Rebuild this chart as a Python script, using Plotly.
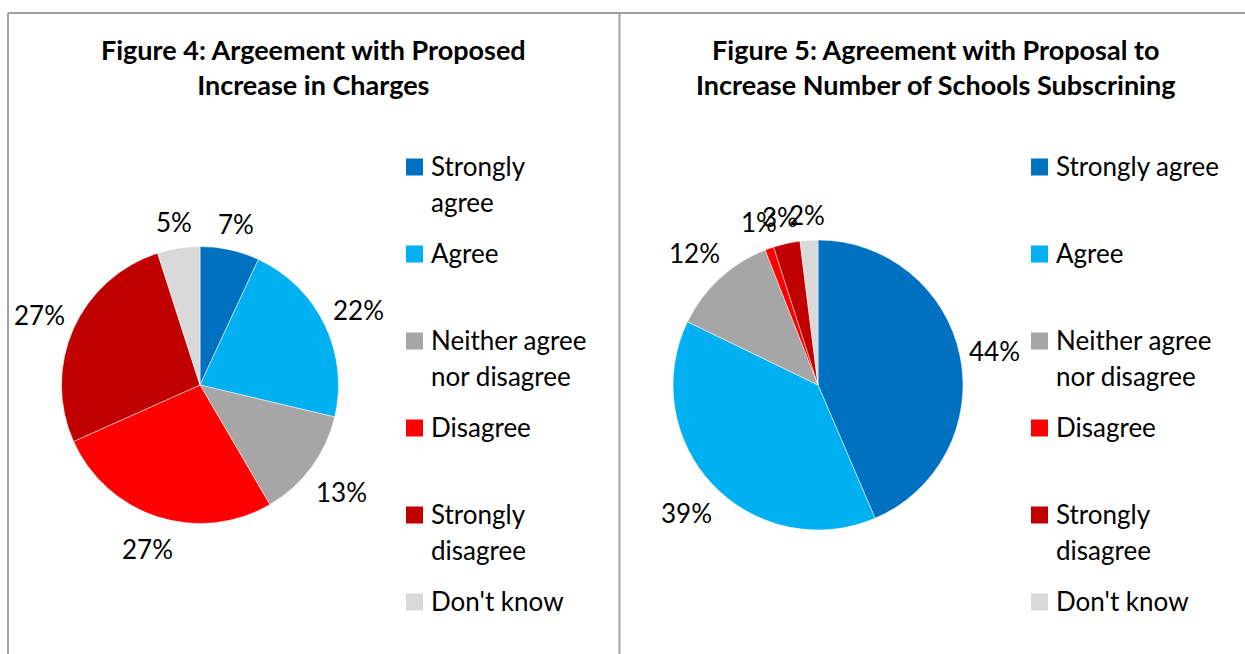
import math
import plotly.graph_objects as go

W, H = 1245, 654
FONT = "Lato"

# Response categories, slice colours and survey results (percent)
categories = ["Strongly agree", "Agree", "Neither agree nor disagree",
              "Disagree", "Strongly disagree", "Don't know"]
colors = ["#0070C0", "#00B0F0", "#A6A6A6", "#FF0000", "#C00000", "#D9D9D9"]
charges_pct = [7, 22, 13, 27, 27, 5]
schools_pct = [44, 39, 12, 1, 3, 2]

titles = ["Figure 4: Argeement with Proposed<br>Increase in Charges",
          "Figure 5: Agreement with Proposal to<br>Increase Number of Schools Subscrining"]

# Legend text, wrapped per line as in each panel
legend_left = [["Strongly", "agree"], ["Agree"], ["Neither agree", "nor disagree"],
               ["Disagree"], ["Strongly", "disagree"], ["Don't know"]]
legend_right = [["Strongly agree"], ["Agree"], ["Neither agree", "nor disagree"],
                ["Disagree"], ["Strongly", "disagree"], ["Don't know"]]


def px(x):
    return x / W


def py(y):
    return 1 - y / H


panels = [
    dict(values=charges_pct, cx=200, cy=385, r=138.5, title_x=313,
         legend=legend_left, sq_x=406, text_x=429),
    dict(values=schools_pct, cx=818, cy=385, r=145, title_x=935,
         legend=legend_right, sq_x=1031, text_x=1054),
]

fig = go.Figure()
annotations = []
shapes = []

LABEL_SIZE = 26
for k, p in enumerate(panels):
    cx, cy, r = p["cx"], p["cy"], p["r"]
    fig.add_trace(go.Pie(
        labels=categories, values=p["values"], sort=False,
        direction="clockwise", rotation=0,
        marker=dict(colors=colors, line=dict(color="white", width=0.5)),
        textinfo="none", hovertemplate="%{label}: %{value}%<extra></extra>",
        showlegend=False,
        domain=dict(x=[px(cx - r), px(cx + r)], y=[py(cy + r), py(cy - r)]),
    ))

    # percentage labels outside each slice, placed along the slice mid-angle
    total = sum(p["values"])
    cum = 0
    for v in p["values"]:
        theta = 2 * math.pi * (cum + v / 2) / total
        cum += v
        s, c = math.sin(theta), math.cos(theta)
        text = f"{v}%"
        hw = 0.29 * LABEL_SIZE * len(text)
        hh = 16
        d = r + 10 + abs(s) * hw + abs(c) * hh
        annotations.append(dict(
            x=px(cx + d * s), y=py(cy - d * c + 2), xref="paper", yref="paper",
            text=text, showarrow=False, xanchor="center", yanchor="middle",
            font=dict(family=FONT, size=LABEL_SIZE, color="black")))

    # title
    annotations.append(dict(
        x=px(p["title_x"]), y=py(31), xref="paper", yref="paper",
        text=f"<b>{titles[k]}</b>", showarrow=False,
        xanchor="center", yanchor="top",
        font=dict(family=FONT, size=27, color="black")))

    # legend: coloured squares with wrapped labels
    for i, (col, lines) in enumerate(zip(colors, p["legend"])):
        yc = 167 + i * 87
        shapes.append(dict(type="rect", xref="paper", yref="paper",
                           x0=px(p["sq_x"]), x1=px(p["sq_x"] + 17),
                           y0=py(yc + 8.5), y1=py(yc - 8.5),
                           fillcolor=col, line=dict(width=0)))
        for j, line in enumerate(lines):
            annotations.append(dict(
                x=px(p["text_x"]), y=py(yc + j * 36 - 1), xref="paper", yref="paper",
                text=line, showarrow=False, xanchor="left", yanchor="middle",
                font=dict(family=FONT, size=LABEL_SIZE, color="black")))

# panel borders
border = dict(color="#A0A0A0", width=2)
shapes += [
    dict(type="line", xref="paper", yref="paper", x0=px(8), x1=1, y0=py(13), y1=py(13), line=border),
    dict(type="line", xref="paper", yref="paper", x0=px(8), x1=px(8), y0=py(13), y1=0, line=border),
    dict(type="line", xref="paper", yref="paper", x0=px(619.5), x1=px(619.5), y0=py(13), y1=0, line=border),
]

fig.update_layout(
    width=W, height=H, margin=dict(l=0, r=0, t=0, b=0),
    paper_bgcolor="white", plot_bgcolor="white",
    annotations=annotations, shapes=shapes, showlegend=False,
    font=dict(family=FONT),
)

fig.write_html("out.html")
